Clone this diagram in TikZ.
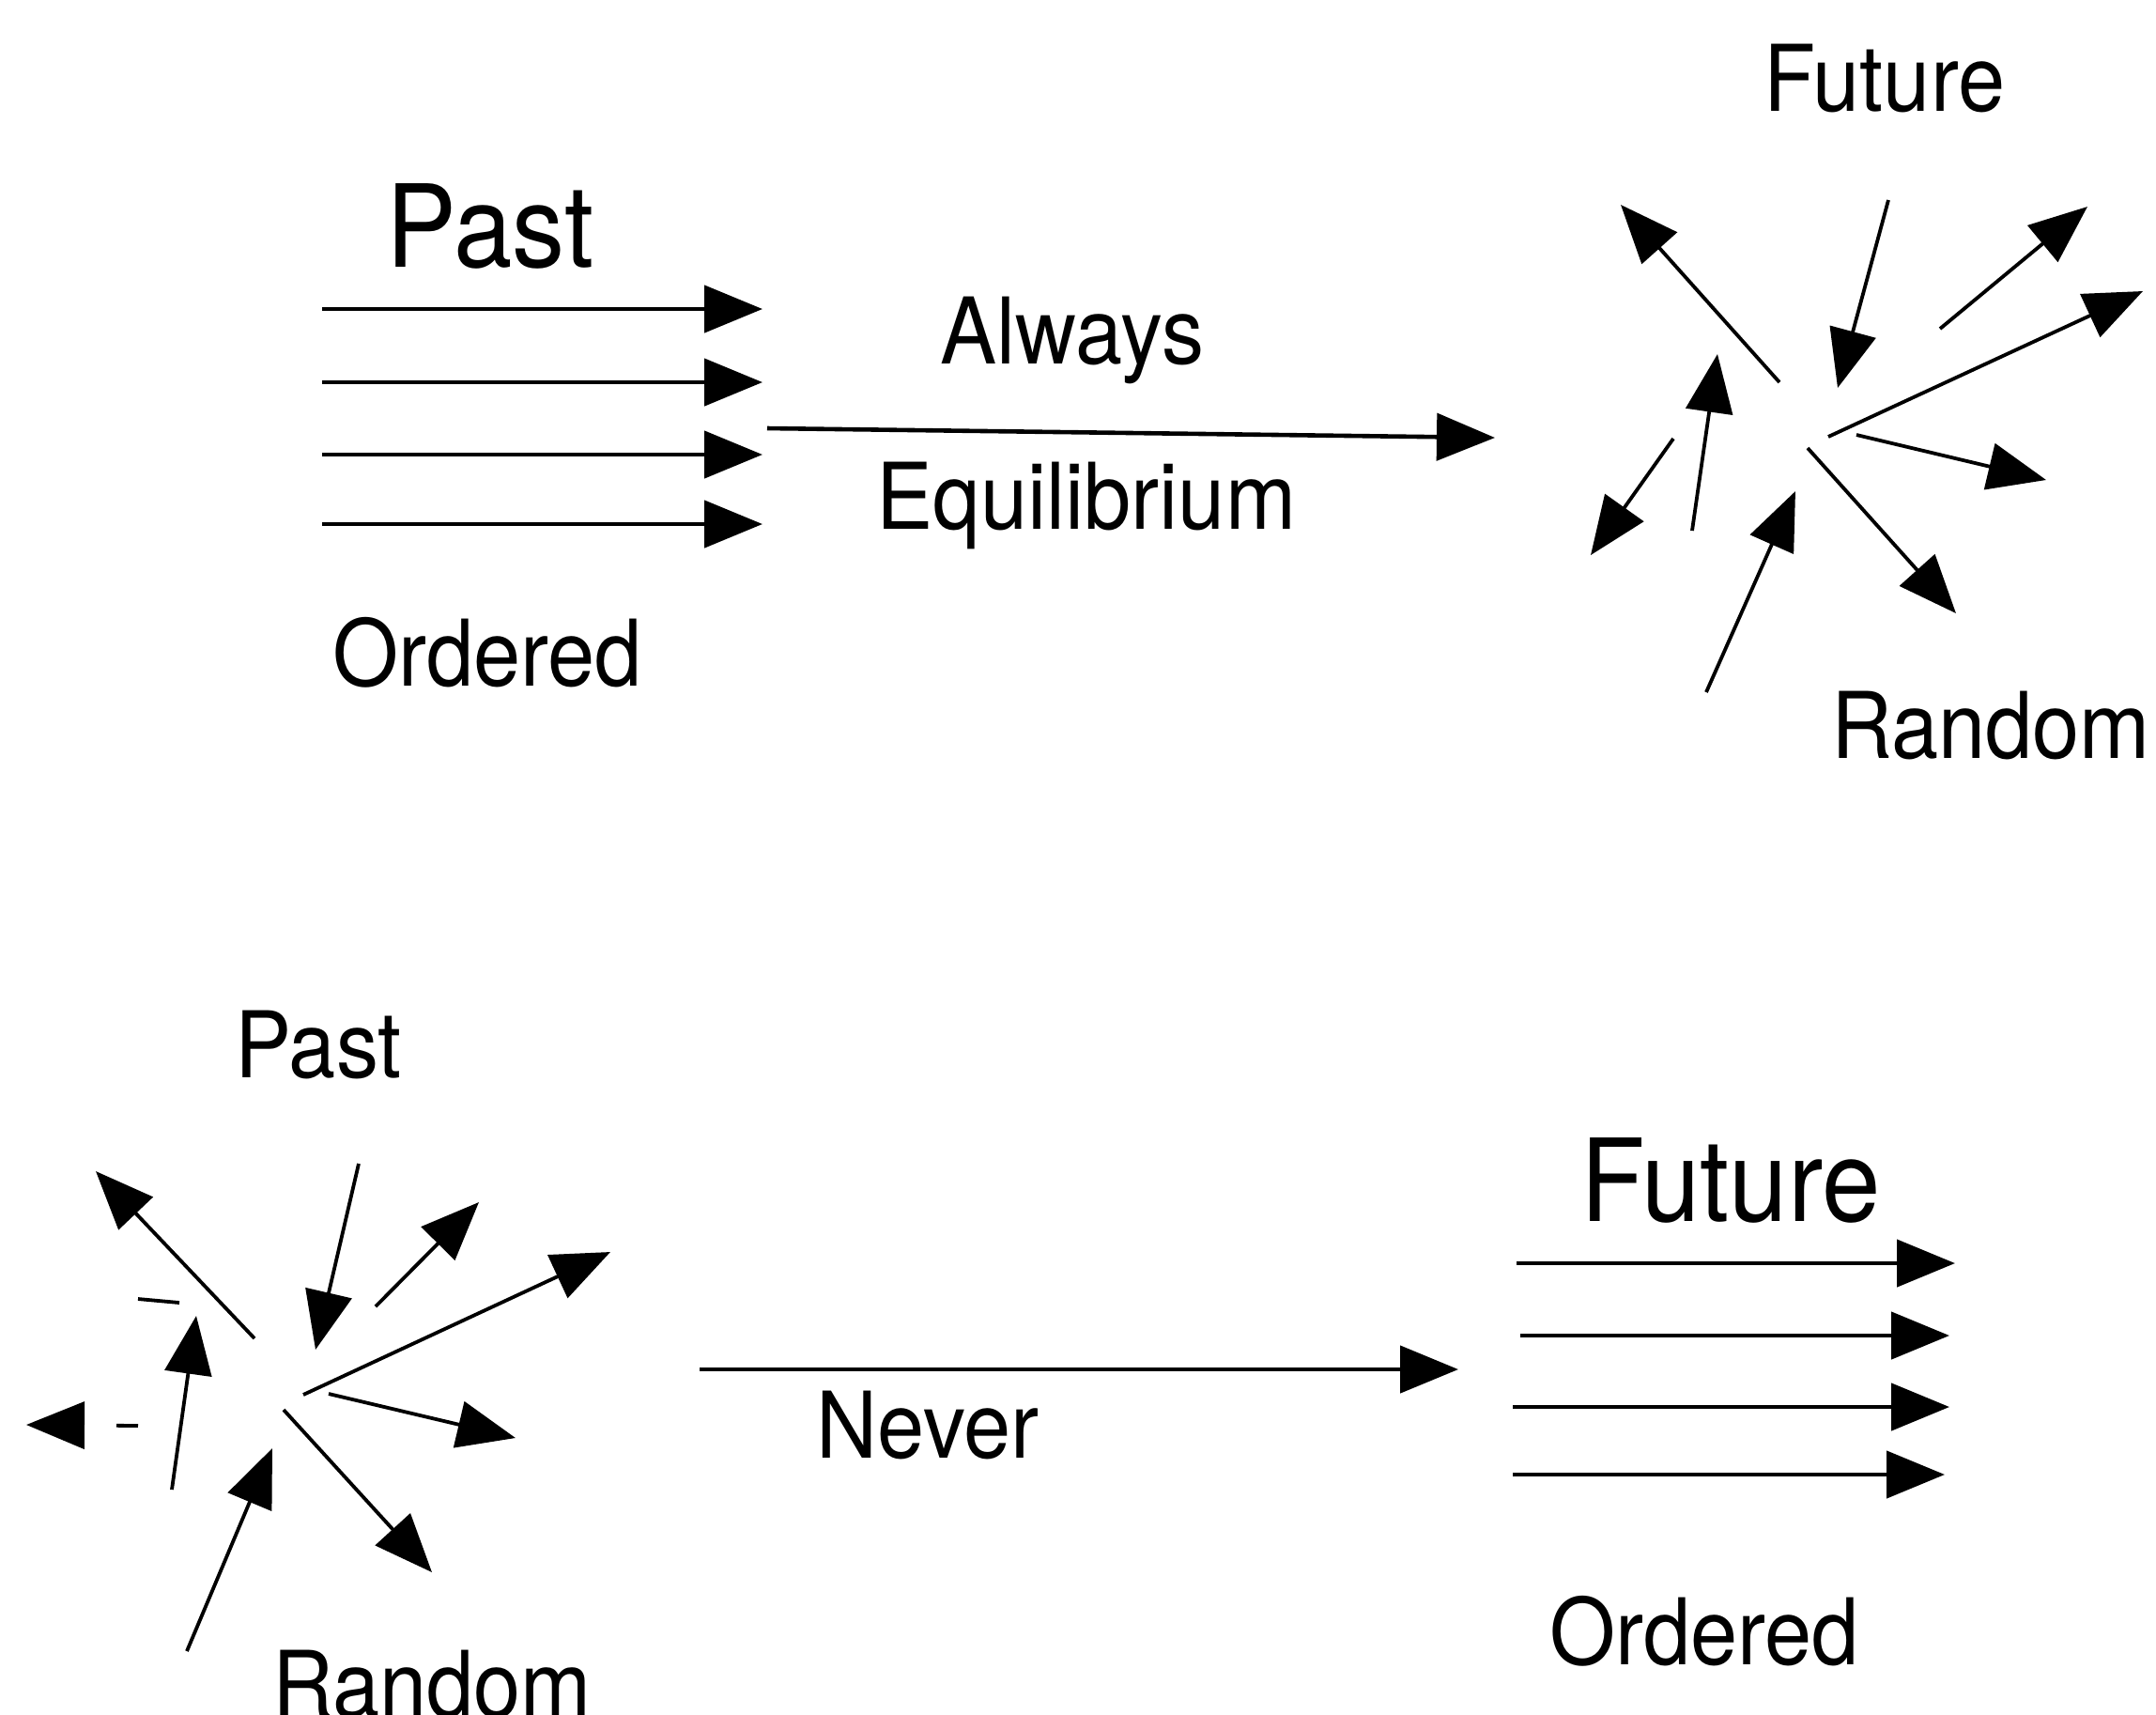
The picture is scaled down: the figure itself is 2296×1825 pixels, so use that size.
\documentclass[tikz,border=0pt]{standalone}
\usepackage{fontspec}
\setmainfont{TeX Gyre Heros}[FakeStretch=0.92]
\usetikzlibrary{arrows.meta}
\tikzset{
  lbl/.style={inner sep=0pt,anchor=base,font=\fontsize{24.5pt}{29pt}\selectfont},
  big/.style={lbl,font=\fontsize{30.5pt}{36pt}\selectfont},
  arr/.style={-{Triangle[length=15.5pt,width=12.5pt]},line width=1.15pt},
  ray/.style={arr,line width=0.95pt},
}
\begin{document}
\begin{tikzpicture}[x=0.25pt,y=-0.25pt]
  \clip (0,0) rectangle (2296,1825);
  % top row: ordered -> random
  \foreach \i/\y in {1/329,2/407,3/484,4/558}{
    \coordinate (pa\i) at (343,\y);
    \coordinate (pb\i) at (812,\y);
    \draw[arr] (pa\i) -- (pb\i);
  }
  \node[big] (past1) at (522,284) {Past};
  \node[lbl] (ord1) at (519,730) {Ordered};
  \coordinate (go1) at (817,456);
  \coordinate (go2) at (1592,466);
  \draw[arr] (go1) -- (go2);
  \node[lbl] (always) at (1142,387) {Always};
  \node[lbl] (equil) at (1157,563) {Equilibrium};
  \foreach \n/\ax/\ay/\bx/\by in {1/1895/407/1726/218, 2/2011/213/1957/413,
      3/2066/350/2223/220, 4/1947/465/2282/310, 5/1977/463/2179/511,
      6/1925/477/2083/653, 7/1817/737/1912/523, 8/1802/565/1829/377,
      9/1782/467/1694/591}{
    \coordinate (fa\n) at (\ax,\ay);
    \coordinate (fb\n) at (\bx,\by);
    \draw[ray] (fa\n) -- (fb\n);
  }
  \node[lbl] (fut1) at (2007,118) {Future};
  \node[lbl] (rnd1) at (2120,807) {Random};
  % bottom row: random -> ordered
  \foreach \n/\ax/\ay/\bx/\by in {1/271/1425/102/1247, 2/382/1239/336/1437,
      3/400/1391/510/1280, 4/323/1485/650/1333, 5/350/1484/549/1531,
      6/302/1501/460/1674, 7/199/1758/290/1542, 8/183/1586/209/1401}{
    \coordinate (ra\n) at (\ax,\ay);
    \coordinate (rb\n) at (\bx,\by);
    \draw[ray] (ra\n) -- (rb\n);
  }
  \coordinate (ra9) at (147,1518);
  \coordinate (rb9) at (28,1517);
  \draw[ray,dash pattern=on 5.75pt off 100pt] (ra9) -- (rb9);
  \coordinate (dsh1) at (147,1383);
  \coordinate (dsh2) at (191,1387);
  \draw[line width=0.95pt] (dsh1) -- (dsh2);
  \node[lbl] (past2) at (339,1147) {Past};
  \node[lbl] (rnd2) at (460,1828) {Random};
  \coordinate (no1) at (745,1458);
  \coordinate (no2) at (1553,1458);
  \draw[arr] (no1) -- (no2);
  \node[lbl] (never) at (988,1552) {Never};
  \foreach \i/\y/\xa/\xb in {1/1345/1615/2082,2/1422/1619/2076,
      3/1498/1611/2076,4/1570/1611/2071}{
    \coordinate (qa\i) at (\xa,\y);
    \coordinate (qb\i) at (\xb,\y);
    \draw[arr] (qa\i) -- (qb\i);
  }
  \node[big] (fut2) at (1843,1300) {Future};
  \node[lbl] (ord2) at (1815,1772) {Ordered};
\end{tikzpicture}
\end{document}
